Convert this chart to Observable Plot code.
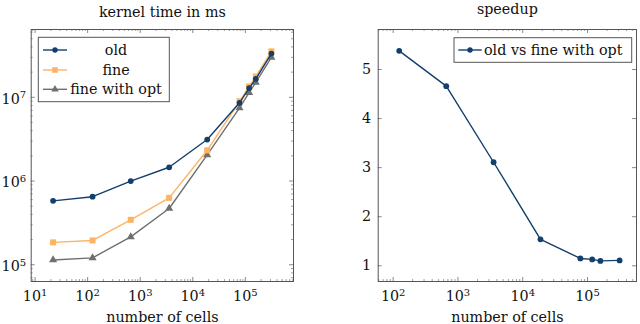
<!DOCTYPE html>
<html><head><meta charset="utf-8">
<script src="https://cdn.jsdelivr.net/npm/d3@7"></script>
<script src="https://cdn.jsdelivr.net/npm/@observablehq/plot@0.6"></script>
<style>
body{margin:0;background:#fff;}
#wrap{display:flex;width:640px;height:324px;overflow:hidden;}
#wrap svg{flex:none;}
svg text{font-family:"DejaVu Serif",serif;}
</style></head><body><div id="wrap"></div>
<script>
// ---- data ----
const cells = [22, 124, 660, 3550, 18800, 77500, 118000, 158000, 313000];
const oldTime = [5.8e5, 6.5e5, 1.0e6, 1.46e6, 3.13e6, 8.6e6, 1.29e7, 1.66e7, 3.33e7];
const fineTime = [1.85e5, 1.95e5, 3.44e5, 6.3e5, 2.33e6, 8.96e6, 1.35e7, 1.77e7, 3.54e7];
const optTime = [1.14e5, 1.21e5, 2.15e5, 4.7e5, 2.05e6, 7.47e6, 1.14e7, 1.51e7, 3.0e7];
const speedupCells = [124, 660, 3550, 18800, 77500, 118000, 158000, 313000];
const speedup = [5.38, 4.66, 3.11, 1.54, 1.15, 1.13, 1.10, 1.11];
const seriesNames = ["old", "fine", "fine with opt"];
const speedupName = "old vs fine with opt";
const titleLeft = "kernel time in ms";
const titleRight = "speedup";
const xLabel = "number of cells";
const xTicksLeft = [1e1, 1e2, 1e3, 1e4, 1e5];
const yTicksLeft = [1e5, 1e6, 1e7];
const xTicksRight = [1e2, 1e3, 1e4, 1e5];
const yTicksRight = [1, 2, 3, 4, 5];

// ---- style ----
const NAVY = "#123f6d", ORANGE = "#fdb462", GRAY = "#6f6f6f";
const FRAME = "#555", TICK = "#888";
const FS = 14.3;
const LW = 1.4;
const colors = [NAVY, ORANGE, GRAY];
const symbols = ["circle", "square", "triangle"];
const radii = [2.9, 3.4, 3.0];

function minorTicks(domain) {
  const out = [];
  for (let e = -1; e <= 8; e++) for (let m = 2; m <= 9; m++) {
    const v = m * Math.pow(10, e);
    if (v > domain[0] && v < domain[1]) out.push(v);
  }
  return out;
}

function frameMarks(xMaj, xMin, yMaj, yMin, innerW, innerH) {
  const M = 4, m = 2;
  const marks = [];
  marks.push(Plot.tickX(xMaj, {x: d => d, stroke: TICK, insetTop: innerH - M}));
  marks.push(Plot.tickX(xMaj, {x: d => d, stroke: TICK, insetBottom: innerH - M}));
  marks.push(Plot.tickY(yMaj, {y: d => d, stroke: TICK, insetRight: innerW - M}));
  marks.push(Plot.tickY(yMaj, {y: d => d, stroke: TICK, insetLeft: innerW - M}));
  if (xMin.length) {
    marks.push(Plot.tickX(xMin, {x: d => d, stroke: TICK, strokeWidth: 0.8, insetTop: innerH - m}));
    marks.push(Plot.tickX(xMin, {x: d => d, stroke: TICK, strokeWidth: 0.8, insetBottom: innerH - m}));
  }
  if (yMin.length) {
    marks.push(Plot.tickY(yMin, {y: d => d, stroke: TICK, strokeWidth: 0.8, insetRight: innerW - m}));
    marks.push(Plot.tickY(yMin, {y: d => d, stroke: TICK, strokeWidth: 0.8, insetLeft: innerW - m}));
  }
  marks.push(Plot.frame({stroke: FRAME, strokeWidth: 1}));
  return marks;
}

function supify(svg) {
  d3.select(svg).selectAll("text").each(function() {
    const t = this.textContent;
    if (t.indexOf("^") < 0) return;
    const parts = t.split("^");
    const sel = d3.select(this);
    sel.selectAll("*").remove();
    sel.text(parts[0]);
    sel.append("tspan").attr("dy", "-5.5").attr("font-size", 10).text(parts[1]);
  });
}

function legend(svg, x0, y0, w, h, entries, textX, anchor, lineX1, lineX2, rowYs) {
  const g = d3.select(svg).append("g");
  g.append("rect").attr("x", x0).attr("y", y0).attr("width", w).attr("height", h)
    .attr("fill", "white").attr("stroke", FRAME).attr("stroke-width", 1);
  entries.forEach((e, i) => {
    const y = rowYs[i];
    g.append("line").attr("x1", lineX1).attr("x2", lineX2).attr("y1", y).attr("y2", y)
      .attr("stroke", e.color).attr("stroke-width", LW);
    const sym = d3.symbol().type({circle: d3.symbolCircle, square: d3.symbolSquare, triangle: d3.symbolTriangle}[e.symbol])
      .size(Math.PI * e.r * e.r * 0.85);
    g.append("path").attr("d", sym()).attr("transform", `translate(${(lineX1 + lineX2) / 2},${y})`)
      .attr("fill", e.color);
    g.append("text").attr("x", textX).attr("y", y + 5).attr("text-anchor", anchor)
      .attr("font-size", FS).attr("fill", "#111").text(e.name);
  });
}

// ---- left panel ----
const L = {w: 320, h: 324, ml: 30.7, mr: 27, mt: 29, mb: 43};
const xDomL = [Math.pow(10, 0.926), Math.pow(10, 5.916)];
const yDomL = [Math.pow(10, 4.80), Math.pow(10, 7.81)];
const innerWL = L.w - L.ml - L.mr, innerHL = L.h - L.mt - L.mb;
const seriesData = [oldTime, fineTime, optTime];
const dataMarksL = [];
seriesData.forEach((vals, s) => {
  const rows = cells.map((c, i) => ({cells: c, time: vals[i]}));
  dataMarksL.push(Plot.line(rows, {x: "cells", y: "time", stroke: colors[s], strokeWidth: LW}));
  dataMarksL.push(Plot.dot(rows, {x: "cells", y: "time", fill: colors[s], symbol: symbols[s], r: radii[s], stroke: "none"}));
});
const leftPlot = Plot.plot({
  width: L.w, height: L.h, marginLeft: L.ml, marginRight: L.mr, marginTop: L.mt, marginBottom: L.mb,
  style: {fontFamily: "DejaVu Serif", fontSize: FS + "px", background: "white", overflow: "visible"},
  x: {type: "log", domain: xDomL, axis: null},
  y: {type: "log", domain: yDomL, axis: null},
  marks: [
    ...frameMarks(xTicksLeft, minorTicks(xDomL), yTicksLeft, minorTicks(yDomL), innerWL, innerHL),
    dataMarksL[4], dataMarksL[5], dataMarksL[2], dataMarksL[3], dataMarksL[0], dataMarksL[1],
    Plot.text(xTicksLeft, {x: d => d, text: d => "10^" + Math.round(Math.log10(d)), frameAnchor: "bottom",
      lineAnchor: "bottom", dy: 19.5, fontSize: FS, fill: "#111"}),
    Plot.text(yTicksLeft, {y: d => d, text: d => "10^" + Math.round(Math.log10(d)), frameAnchor: "left",
      textAnchor: "end", lineAnchor: "bottom", dx: -5, dy: 6.3, fontSize: FS, fill: "#111"}),
    Plot.text([titleLeft], {text: d => d, frameAnchor: "top", lineAnchor: "bottom", dy: -12.5, fontSize: FS, fill: "#111"}),
    Plot.text([xLabel], {text: d => d, frameAnchor: "bottom", lineAnchor: "bottom", dy: 40.5, fontSize: FS, fill: "#111"})
  ]
});
supify(leftPlot);
legend(leftPlot, 38.3, 37.3, 131, 64.4,
  seriesNames.map((n, i) => ({name: n, color: colors[i], symbol: symbols[i], r: radii[i]})),
  116, "middle", 43, 67, [50, 70, 89.3]);

// ---- right panel ----
const R = {w: 320, h: 324, ml: 57.7, mr: 4, mt: 29, mb: 43};
const xDomR = [Math.pow(10, 1.769), Math.pow(10, 5.756)];
const yDomR = [0.68, 5.815];
const innerWR = R.w - R.ml - R.mr, innerHR = R.h - R.mt - R.mb;
const rowsR = speedupCells.map((c, i) => ({cells: c, s: speedup[i]}));
const rightPlot = Plot.plot({
  width: R.w, height: R.h, marginLeft: R.ml, marginRight: R.mr, marginTop: R.mt, marginBottom: R.mb,
  style: {fontFamily: "DejaVu Serif", fontSize: FS + "px", background: "white", overflow: "visible"},
  x: {type: "log", domain: xDomR, axis: null},
  y: {type: "linear", domain: yDomR, axis: null},
  marks: [
    ...frameMarks(xTicksRight, minorTicks(xDomR), yTicksRight, [], innerWR, innerHR),
    Plot.line(rowsR, {x: "cells", y: "s", stroke: NAVY, strokeWidth: LW}),
    Plot.dot(rowsR, {x: "cells", y: "s", fill: NAVY, r: 2.9, stroke: "none"}),
    Plot.text(xTicksRight, {x: d => d, text: d => "10^" + Math.round(Math.log10(d)), frameAnchor: "bottom",
      lineAnchor: "bottom", dy: 19.5, fontSize: FS, fill: "#111"}),
    Plot.text(yTicksRight, {y: d => d, text: d => String(d), frameAnchor: "left",
      textAnchor: "end", lineAnchor: "middle", dx: -7, fontSize: FS, fill: "#111"}),
    Plot.text([titleRight], {text: d => d, frameAnchor: "top", lineAnchor: "bottom", dy: -16, fontSize: FS, fill: "#111"}),
    Plot.text([xLabel], {text: d => d, frameAnchor: "bottom", lineAnchor: "bottom", dy: 40.5, fontSize: FS, fill: "#111"})
  ]
});
supify(rightPlot);
legend(rightPlot, 134, 37.7, 177.7, 24.6,
  [{name: speedupName, color: NAVY, symbol: "circle", r: 2.9}],
  164, "start", 138.3, 161.7, [50]);

document.getElementById("wrap").append(leftPlot, rightPlot);
</script></body></html>
